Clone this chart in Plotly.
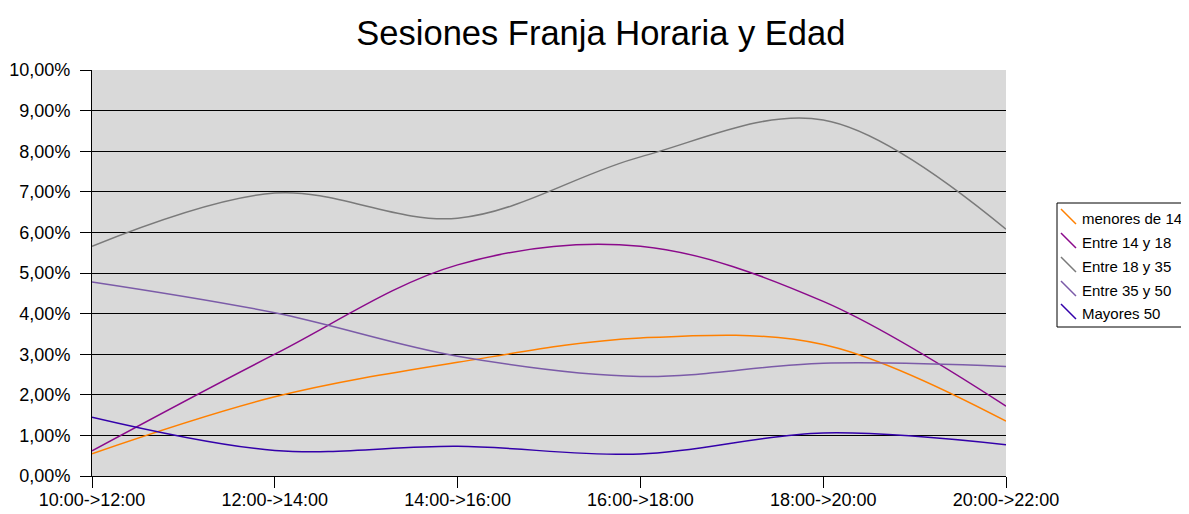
import plotly.graph_objects as go

categories = ["10:00->12:00", "12:00->14:00", "14:00->16:00", "16:00->18:00", "18:00->20:00", "20:00->22:00"]
series_names = ["menores de 14", "Entre 14 y 18", "Entre 18 y 35", "Entre 35 y 50", "Mayores 50"]
menores_14 = [0.55, 1.95, 2.80, 3.40, 3.24, 1.35]
entre_14_18 = [0.62, 3.00, 5.20, 5.66, 4.30, 1.72]
entre_18_35 = [5.66, 6.97, 6.35, 7.86, 8.77, 6.08]
entre_35_50 = [4.78, 4.02, 2.95, 2.45, 2.78, 2.70]
mayores_50 = [1.45, 0.63, 0.73, 0.54, 1.06, 0.77]
colors = ["#FF8000", "#8B0A8B", "#7A7A7A", "#7B5BA8", "#3300AA"]
y_ticks = [0, 1, 2, 3, 4, 5, 6, 7, 8, 9, 10]
y_tick_labels = ["0,00%", "1,00%", "2,00%", "3,00%", "4,00%", "5,00%", "6,00%", "7,00%", "8,00%", "9,00%", "10,00%"]

# figure size (page has an 8px body margin, so figure is reduced to fit the window)
W, H = 1181, 506
L, R, T, B = 84, 183, 62, 38
PW, PH = W - L - R, H - T - B


def px_x(x):
    return (x - L) / PW


def px_y(y):
    return (H - B - y) / PH


fig = go.Figure()
for name, vals, col in zip(series_names, [menores_14, entre_14_18, entre_18_35, entre_35_50, mayores_50], colors):
    fig.add_trace(go.Scatter(x=list(range(len(categories))), y=vals, name=name, mode="lines",
                             showlegend=False,
                             line=dict(color=col, width=1.5, shape="spline", smoothing=1.0)))

# legend box built by hand (Excel style with diagonal line keys)
shapes = [dict(type="rect", xref="paper", yref="paper", x0=px_x(1049), x1=px_x(1200),
               y0=px_y(195), y1=px_y(319), line=dict(color="black", width=1), fillcolor="white", layer="above")]
annotations = []
row_centers = [210, 234, 258, 282, 305]
for name, col, cy in zip(series_names, colors, row_centers):
    shapes.append(dict(type="line", xref="paper", yref="paper", x0=px_x(1053), x1=px_x(1068),
                       y0=px_y(cy - 9), y1=px_y(cy + 6), line=dict(color=col, width=1.5), layer="above"))
    annotations.append(dict(text=name, xref="paper", yref="paper", x=px_x(1072), y=px_y(cy),
                            xanchor="left", yanchor="middle", showarrow=False,
                            font=dict(size=15, color="black")))

fig.update_layout(
    width=W, height=H,
    margin=dict(l=L, r=R, t=T, b=B, autoexpand=False),
    paper_bgcolor="white", plot_bgcolor="#D9D9D9",
    font=dict(family="Liberation Sans, Arial", size=16, color="black"),
    title=dict(text="Sesiones Franja Horaria y Edad", x=0.502, xanchor="center", y=1 - 25 / H, yanchor="middle",
               font=dict(size=34.5, color="black")),
    showlegend=False,
    shapes=shapes,
    annotations=annotations,
    xaxis=dict(range=[0, len(categories) - 1], tickmode="array", tickvals=list(range(len(categories))),
               ticktext=categories, showgrid=False, zeroline=False, showline=True, linecolor="black",
               linewidth=1, ticks="outside", ticklen=11, tickcolor="black", tickfont=dict(size=18),
               ticklabelstandoff=-4, automargin=False),
    yaxis=dict(range=[0, 10], tickmode="array", tickvals=y_ticks, ticktext=y_tick_labels,
               showgrid=True, gridcolor="black", gridwidth=1, zeroline=False, showline=True,
               linecolor="black", linewidth=1, ticks="outside", ticklen=11, tickcolor="black",
               tickfont=dict(size=18), ticklabelstandoff=6, automargin=False),
)
fig.write_html("out.html")
